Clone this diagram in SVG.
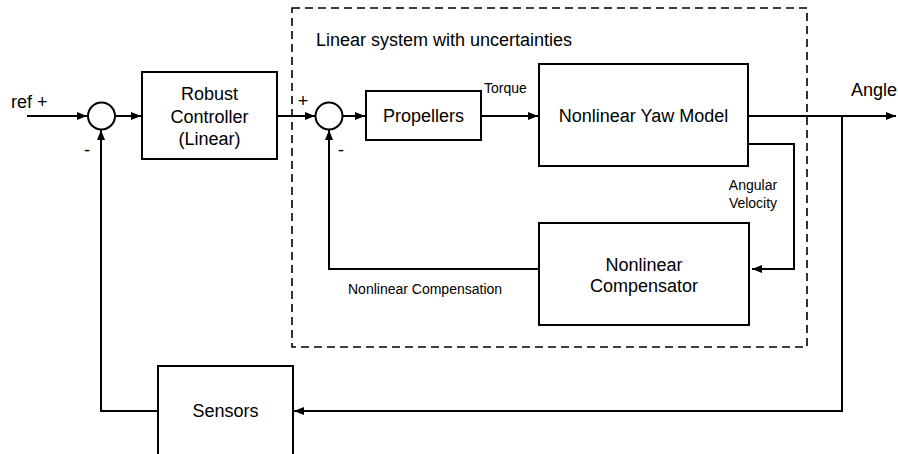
<svg xmlns="http://www.w3.org/2000/svg" width="898" height="454" viewBox="0 0 898 454">
<defs>
<marker id="arr" viewBox="0 0 10 10" refX="10" refY="5" markerWidth="10" markerHeight="10" markerUnits="userSpaceOnUse" orient="auto">
<path d="M0,1 L10,5 L0,9 z" fill="#000"/>
</marker>
</defs>
<style>
.box{fill:#fff;stroke:#000;stroke-width:2}
.sum{fill:#fff;stroke:#000;stroke-width:2}
.ln{fill:none;stroke:#000;stroke-width:2}
.dash{fill:none;stroke:#000;stroke-width:1.6;stroke-dasharray:8 5}
.t{font-family:"Liberation Sans",Arial,sans-serif;font-size:18px;fill:#000}
.s{font-family:"Liberation Sans",Arial,sans-serif;font-size:14px;fill:#000}
.m{text-anchor:middle}
</style>
<rect width="898" height="454" fill="#fff"/>
<g id="uncertainty-region">
<rect class="dash" x="292" y="8" width="515" height="339"/>
<text class="t" x="316" y="46">Linear system with uncertainties</text>
</g>
<g id="connectors">
<path class="ln" d="M27,116 H87" marker-end="url(#arr)"/>
<path class="ln" d="M116,116 H141" marker-end="url(#arr)"/>
<path class="ln" d="M277,116 H315" marker-end="url(#arr)"/>
<path class="ln" d="M343,116 H365" marker-end="url(#arr)"/>
<path class="ln" d="M481,116 H538" marker-end="url(#arr)"/>
<path class="ln" d="M748,116 H896" marker-end="url(#arr)"/>
<path class="ln" d="M748,144 H794 V269 H752" marker-end="url(#arr)"/>
<path class="ln" d="M539,269 H329 V130" marker-end="url(#arr)"/>
<path class="ln" d="M842,116 V411 H294" marker-end="url(#arr)"/>
<path class="ln" d="M158,411 H101 V130" marker-end="url(#arr)"/>
</g>
<g id="sum1">
<circle class="sum" cx="101.5" cy="116" r="13.5"/>
<text class="t" x="11" y="108">ref +</text>
<text class="t" x="84" y="156">-</text>
</g>
<g id="controller">
<rect class="box" x="142" y="72" width="135" height="87"/>
<text class="t m" x="209.5" y="100">Robust</text>
<text class="t m" x="209.5" y="122.5">Controller</text>
<text class="t m" x="209.5" y="145">(Linear)</text>
</g>
<g id="sum2">
<circle class="sum" cx="329" cy="116" r="13.5"/>
<text class="t m" x="303" y="107">+</text>
<text class="t" x="338" y="156">-</text>
</g>
<g id="propellers">
<rect class="box" x="366" y="91" width="115" height="49"/>
<text class="t m" x="423.5" y="122">Propellers</text>
</g>
<text class="s" x="484" y="93">Torque</text>
<g id="yaw-model">
<rect class="box" x="539" y="64" width="209" height="102"/>
<text class="t m" x="643.5" y="121.5">Nonlinear Yaw Model</text>
</g>
<text class="t" x="851" y="96">Angle</text>
<text class="s m" x="753" y="190">Angular</text>
<text class="s m" x="753" y="208">Velocity</text>
<g id="compensator">
<rect class="box" x="539" y="223" width="210" height="102"/>
<text class="t m" x="644" y="271">Nonlinear</text>
<text class="t m" x="644" y="292">Compensator</text>
</g>
<text class="s" x="348" y="294">Nonlinear Compensation</text>
<g id="sensors">
<rect class="box" x="158" y="366" width="135" height="100"/>
<text class="t m" x="225.5" y="417">Sensors</text>
</g>
</svg>
